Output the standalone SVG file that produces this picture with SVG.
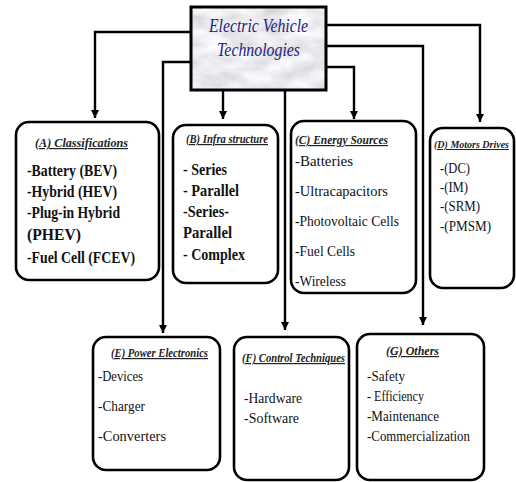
<svg xmlns="http://www.w3.org/2000/svg" width="516" height="482" viewBox="0 0 516 482">
<defs>
<style>
.box{fill:#fff;stroke:#000;stroke-width:2.6}
.con{fill:none;stroke:#000;stroke-width:2.4}
.hd{font-family:"Liberation Serif",serif;font-style:italic;font-weight:bold;font-size:12px;fill:#222;text-decoration:underline}
.b{font-family:"Liberation Serif",serif;font-weight:bold;font-size:16px;fill:#111}
.n{font-family:"Liberation Serif",serif;font-size:14.5px;fill:#111}
.t{font-family:"Liberation Serif",serif;font-style:italic;font-size:19px;fill:#1f1f7a}
</style>
<marker id="ah" viewBox="0 0 10 10" refX="10" refY="5" markerWidth="3.4" markerHeight="3.4" orient="auto" markerUnits="strokeWidth">
<path d="M0,0 L10,5 L0,10 z" fill="#000"/>
</marker>
<filter id="marble" x="0" y="0" width="100%" height="100%">
<feTurbulence type="fractalNoise" baseFrequency="0.035 0.07" numOctaves="4" seed="7" result="n"/>
<feColorMatrix in="n" type="matrix" values="0.5 0 0 0 0.58  0.5 0 0 0 0.58  0.5 0 0 0 0.62  0 0 0 0 1"/>
</filter>
</defs>

<g id="connectors">
<path class="con" d="M191,32 H95 V118" marker-end="url(#ah)"/>
<path class="con" d="M191,62 H163 V333" marker-end="url(#ah)"/>
<path class="con" d="M223,90 V119" marker-end="url(#ah)"/>
<path class="con" d="M285,90 V330" marker-end="url(#ah)"/>
<path class="con" d="M326,67 H354 V119" marker-end="url(#ah)"/>
<path class="con" d="M326,46 H423 V325" marker-end="url(#ah)"/>
<path class="con" d="M326,25 H480 V122" marker-end="url(#ah)"/>
</g>

<g id="root">
<rect x="191" y="7" width="135" height="83" fill="#e6e6e8"/>
<rect x="191" y="7" width="135" height="83" filter="url(#marble)"/>
<rect x="191" y="7" width="135" height="83" fill="none" stroke="#000" stroke-width="3"/>
<text class="t" x="209" y="32" textLength="99" lengthAdjust="spacingAndGlyphs">Electric Vehicle</text>
<text class="t" x="217" y="56" textLength="83" lengthAdjust="spacingAndGlyphs">Technologies</text>
</g>

<g id="nodeA">
<rect class="box" x="16" y="122" width="143" height="158" rx="13"/>
<text class="hd" x="35" y="147" textLength="93" lengthAdjust="spacingAndGlyphs">(A) Classifications</text>
<text class="b" x="27" y="176" textLength="90" lengthAdjust="spacingAndGlyphs">-Battery (BEV)</text>
<text class="b" x="27" y="197" textLength="90" lengthAdjust="spacingAndGlyphs">-Hybrid (HEV)</text>
<text class="b" x="27" y="218" textLength="93" lengthAdjust="spacingAndGlyphs">-Plug-in Hybrid</text>
<text class="b" x="27" y="240" textLength="54" lengthAdjust="spacingAndGlyphs">(PHEV)</text>
<text class="b" x="27" y="263" textLength="108" lengthAdjust="spacingAndGlyphs">-Fuel Cell (FCEV)</text>
</g>

<g id="nodeB">
<rect class="box" x="173" y="125" width="105" height="158" rx="13"/>
<text class="hd" x="186" y="143" textLength="82" lengthAdjust="spacingAndGlyphs">(B) Infra structure</text>
<text class="b" x="183" y="175" textLength="44" lengthAdjust="spacingAndGlyphs">- Series</text>
<text class="b" x="183" y="196" textLength="56" lengthAdjust="spacingAndGlyphs">- Parallel</text>
<text class="b" x="183" y="217" textLength="46" lengthAdjust="spacingAndGlyphs">-Series-</text>
<text class="b" x="183" y="238" textLength="49" lengthAdjust="spacingAndGlyphs">Parallel</text>
<text class="b" x="183" y="260" textLength="62" lengthAdjust="spacingAndGlyphs">- Complex</text>
</g>

<g id="nodeC">
<rect class="box" x="291" y="121" width="125" height="172" rx="13"/>
<text class="hd" x="295" y="144" textLength="93" lengthAdjust="spacingAndGlyphs">(C) Energy Sources</text>
<text class="n" x="295" y="166" textLength="58" lengthAdjust="spacingAndGlyphs">-Batteries</text>
<text class="n" x="295" y="196" textLength="93" lengthAdjust="spacingAndGlyphs">-Ultracapacitors</text>
<text class="n" x="295" y="226" textLength="104" lengthAdjust="spacingAndGlyphs">-Photovoltaic Cells</text>
<text class="n" x="295" y="256" textLength="60" lengthAdjust="spacingAndGlyphs">-Fuel Cells</text>
<text class="n" x="295" y="286" textLength="51" lengthAdjust="spacingAndGlyphs">-Wireless</text>
</g>

<g id="nodeD">
<rect class="box" x="430" y="128" width="84" height="160" rx="13"/>
<text class="hd" x="434" y="148" font-size="10.2" style="font-size:10.2px" textLength="75" lengthAdjust="spacingAndGlyphs">(D) Motors Drives</text>
<text class="n" x="440" y="173" textLength="30" lengthAdjust="spacingAndGlyphs">-(DC)</text>
<text class="n" x="440" y="192" textLength="28" lengthAdjust="spacingAndGlyphs">-(IM)</text>
<text class="n" x="440" y="211" textLength="40" lengthAdjust="spacingAndGlyphs">-(SRM)</text>
<text class="n" x="440" y="231" textLength="51" lengthAdjust="spacingAndGlyphs">-(PMSM)</text>
</g>

<g id="nodeE">
<rect class="box" x="93" y="337" width="127" height="133" rx="13"/>
<text class="hd" x="111" y="357" textLength="97" lengthAdjust="spacingAndGlyphs">(E) Power Electronics</text>
<text class="n" x="98" y="381" textLength="45" lengthAdjust="spacingAndGlyphs">-Devices</text>
<text class="n" x="98" y="411" textLength="47" lengthAdjust="spacingAndGlyphs">-Charger</text>
<text class="n" x="98" y="441" textLength="68" lengthAdjust="spacingAndGlyphs">-Converters</text>
</g>

<g id="nodeF">
<rect class="box" x="234" y="337" width="115" height="143" rx="13"/>
<text class="hd" x="242" y="362" textLength="103" lengthAdjust="spacingAndGlyphs">(F) Control Techniques</text>
<text class="n" x="244" y="403" textLength="58" lengthAdjust="spacingAndGlyphs">-Hardware</text>
<text class="n" x="244" y="423" textLength="55" lengthAdjust="spacingAndGlyphs">-Software</text>
</g>

<g id="nodeG">
<rect class="box" x="357" y="334" width="127" height="146" rx="13"/>
<text class="hd" x="386" y="355" textLength="53" lengthAdjust="spacingAndGlyphs">(G) Others</text>
<text class="n" x="367" y="381" textLength="38" lengthAdjust="spacingAndGlyphs">-Safety</text>
<text class="n" x="367" y="401" textLength="57" lengthAdjust="spacingAndGlyphs">- Efficiency</text>
<text class="n" x="367" y="421" textLength="72" lengthAdjust="spacingAndGlyphs">-Maintenance</text>
<text class="n" x="367" y="441" textLength="103" lengthAdjust="spacingAndGlyphs">-Commercialization</text>
</g>
</svg>
